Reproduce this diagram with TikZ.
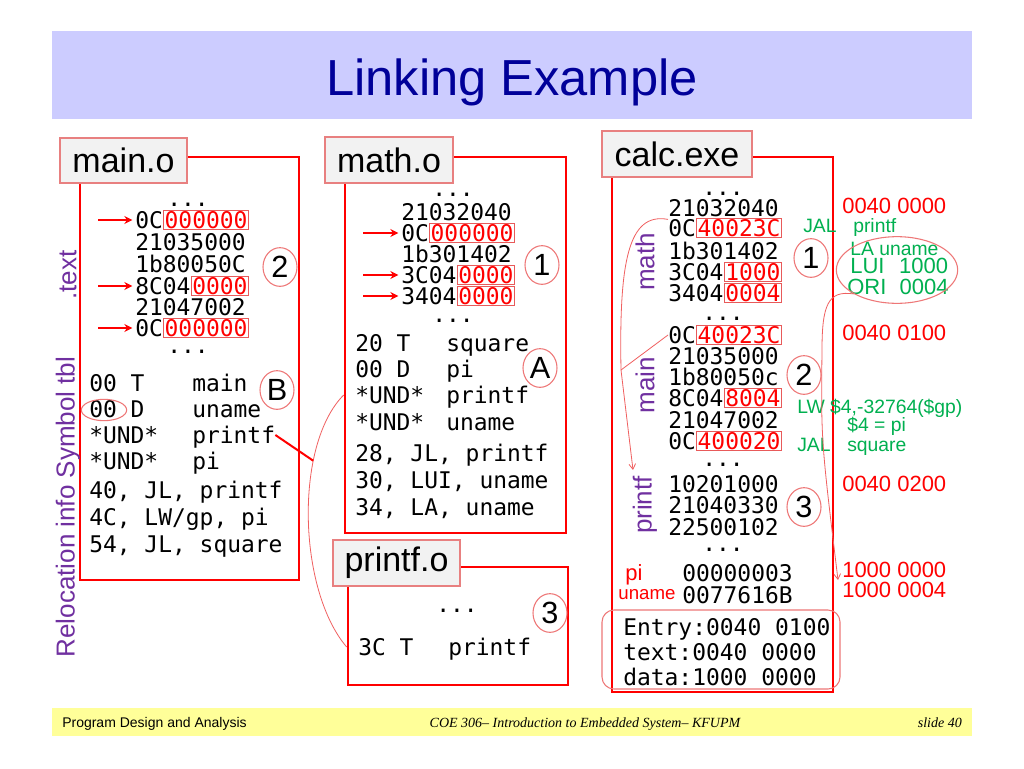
\documentclass[tikz,border=0pt]{standalone}
\usepackage{fontspec}
\setmainfont{Liberation Sans}
\setmonofont{DejaVu Sans Mono}
\newfontfamily\footserif{Liberation Serif}
\usetikzlibrary{arrows.meta,calc,positioning,fit,shapes.geometric}
\definecolor{bandblue}{HTML}{CCCCFF}
\definecolor{titleblue}{HTML}{000099}
\definecolor{bandyellow}{HTML}{FFFF99}
\definecolor{boxred}{HTML}{FF0000}
\definecolor{tagpink}{HTML}{E88080}
\definecolor{taggray}{HTML}{F2F2F2}
\definecolor{ringpink}{HTML}{EE7777}
\definecolor{hlred}{HTML}{E85A5A}
\definecolor{sidepurple}{HTML}{7030A0}
\definecolor{asmgreen}{HTML}{00B050}
\definecolor{linkred}{HTML}{F06060}
\tikzset{objbox/.style={draw=boxred, line width=2pt, inner sep=0pt},
  tagbox/.style={draw=tagpink, line width=1pt, fill=taggray, inner sep=0pt,
    font=\fontsize{25.5}{26}\selectfont},
  mono/.style={anchor=west, inner sep=0pt, font=\ttfamily\fontsize{17.2}{18}\selectfont,
    text height=12.5pt, text depth=0pt},
  hl/.style={mono, draw=hlred, line width=0.7pt, text=red, inner xsep=0.8pt, inner ysep=1.2pt},
  dots/.style={anchor=base, inner sep=0pt, font=\ttfamily\fontsize{17.2}{18}\selectfont,
    text height=3pt, text depth=0pt},
  numring/.style={ellipse, draw=ringpink, line width=0.8pt, inner sep=0pt,
    minimum width=25.5pt, minimum height=29pt, font=\fontsize{23}{24}\selectfont},
  side/.style={rotate=90, text=sidepurple, inner sep=0pt, font=\fontsize{19.5}{20}\selectfont},
  addr/.style={anchor=west, inner sep=0pt, text=red, font=\fontsize{16.5}{17}\selectfont,
    text height=11.8pt, text depth=0pt},
  asm/.style={anchor=west, inner sep=0pt, text=asmgreen, font=\fontsize{14.5}{15}\selectfont,
    text height=10.4pt, text depth=0pt},
  reloc/.style={red, line width=1.4pt, shorten >=2pt, -{Stealth[length=6pt, width=6pt]}},
  link/.style={linkred, line width=0.6pt},
  tip/.style={-{Straight Barb[length=4pt, width=5pt]}}}

\begin{document}
\begin{tikzpicture}[x=0.75pt, y=-0.75pt]
  \useasboundingbox (0,0) rectangle (1024,768);
  \fill[white] (0,0) rectangle (1024,768);
  % title and footer bands
  \node[fill=bandblue, inner sep=0pt, fit={(52,31) (972,119)}] (topband) {};
  \node[anchor=base, inner sep=0pt, text=titleblue, font=\fontsize{38}{40}\selectfont] (title) at (512,95) {Linking Example};
  \node[fill=bandyellow, inner sep=0pt, fit={(52,708) (972,736)}] (footband) {};
  \node[anchor=base west, inner sep=0pt, font=\fontsize{10.5}{12}\selectfont] (fleft) at (62,727) {Program Design and Analysis};
  \node[anchor=base, inner sep=0pt, font=\footserif\itshape\fontsize{10.5}{12}\selectfont] (fmid) at (585,727) {COE 306– Introduction to Embedded System– KFUPM};
  \node[anchor=base east, inner sep=0pt, font=\footserif\itshape\fontsize{10.5}{12}\selectfont] (fright) at (962,727) {slide 40};

  % the four object files
  \node[objbox, fit={(80,157) (299,580)}] (mainbox) {};
  \node[objbox, fit={(345,157) (566,533)}] (mathbox) {};
  \node[objbox, fit={(348,567) (568,685)}] (printfbox) {};
  \node[objbox, fit={(612,157) (833,692)}] (calcbox) {};
  \node[tagbox, minimum width=95.25pt, minimum height=33.75pt] (maintag) at (123.5,160.5) {main.o};
  \node[tagbox, minimum width=96pt, minimum height=34.5pt] (mathtag) at (389,160) {math.o};
  \node[tagbox, minimum width=95.25pt, minimum height=34.5pt] (printftag) at (396.5,563) {printf.o};
  \node[tagbox, minimum width=112.5pt, minimum height=34.5pt] (calctag) at (677,154) {calc.exe};

  % main.o
  \node[side] (textlbl) at (68,275) {.text};
  \node[side] (rellbl) at (68,507) {Relocation info Symbol tbl};
  \node[dots] (mdot1) at (188,206) {...};
  \node[dots] (mdot2) at (188,353) {...};
  \foreach \y/\s [count=\i] in {242/21035000, 264/1b80050C, 307/21047002}
    \node[mono] (mt\i) at (135,\y) {\s};
  \node[mono] (ma1) at (135,220) {0C};
  \node[hl, right=0pt of ma1] (ma1x) {000000};
  \node[mono] (ma2) at (135,286) {8C04};
  \node[hl, right=0pt of ma2] (ma2x) {0000};
  \node[mono] (ma3) at (135,328) {0C};
  \node[hl, right=0pt of ma3] (ma3x) {000000};
  \foreach \n in {ma1,ma2,ma3}
    \draw[reloc] ($(\n.west)+(-37,0)$) -- (\n.west);
  \foreach \y/\a/\b [count=\i] in {383/00 T/main, 409/00 D/uname, 435/*UND*/printf, 461/*UND*/pi}{
    \node[mono] (ms\i) at (89,\y) {\a};
    \node[mono] (msn\i) at (192,\y) {\b};}
  \node[mono] (mr1) at (89,490) {40, JL, printf};
  \node[mono] (mr2) at (89,517) {4C, LW/gp, pi};
  \node[mono] (mr3) at (89,544) {54, JL, square};
  \node[numring] (ring2) at (280,267) {2};
  \node[numring] (ringB) at (277,390) {B};
  \node[ellipse, draw=ringpink, line width=0.8pt, minimum width=34pt, minimum height=16pt] (zring) at (104,410) {};

  % math.o
  \node[dots] (tdot1) at (453,196) {...};
  \node[dots] (tdot2) at (453,322) {...};
  \node[mono] (tt1) at (401,212) {21032040};
  \node[mono] (tt2) at (401,254) {1b301402};
  \node[mono] (ta1) at (401,233) {0C};
  \node[hl, right=0pt of ta1] (ta1x) {000000};
  \node[mono] (ta2) at (401,275) {3C04};
  \node[hl, right=0pt of ta2] (ta2x) {0000};
  \node[mono] (ta3) at (401,296) {3404};
  \node[hl, right=0pt of ta3] (ta3x) {0000};
  \foreach \n in {ta1,ta2,ta3}
    \draw[reloc] ($(\n.west)+(-38,0)$) -- (\n.west);
  \foreach \y/\a/\b [count=\i] in {343/20 T/square, 369/00 D/pi, 395/*UND*/printf, 422/*UND*/uname}{
    \node[mono] (ts\i) at (355,\y) {\a};
    \node[mono] (tsn\i) at (446,\y) {\b};}
  \node[mono] (tr1) at (355,453) {28, JL, printf};
  \node[mono] (tr2) at (355,480) {30, LUI, uname};
  \node[mono] (tr3) at (355,507) {34, LA, uname};
  \node[numring] (ring1) at (542,265) {1};
  \node[numring] (ringA) at (540,368) {A};

  % printf.o
  \node[dots] (pdot) at (457,612) {...};
  \node[mono] (pdef) at (358,647) {3C T};
  \node[mono] (pdefn) at (448,647) {printf};
  \node[numring] (ring3) at (550,613) {3};

  % printf: undefined in math.o, defined in printf.o
  \draw[link] (mathbox.west |- ts3) .. controls (294,445) and (298,590) .. (printfbox.west |- pdef)
    coordinate[pos=0.3] (pfjoin);
  \draw[red, line width=1.5pt] (msn3.east) -- (pfjoin);

  % calc.exe
  \node[side] (cmathlbl) at (645,262) {math};
  \node[side] (cmainlbl) at (645,385) {main};
  \node[side] (cpflbl) at (645,505) {printf};
  \foreach \y [count=\i] in {195, 320, 466, 551}
    \node[dots] (cdot\i) at (723,\y) {...};
  \foreach \y/\s [count=\i] in {208/21032040, 251/1b301402, 356/21035000, 377/1b80050c,
      420/21047002, 484/10201000, 505/21040330, 527/22500102}
    \node[mono] (ct\i) at (668,\y) {\s};
  \node[mono] (cm1) at (668,228) {0C};
  \node[hl, right=0pt of cm1] (cm1x) {40023C};
  \node[mono] (cm2) at (668,272) {3C04};
  \node[hl, right=0pt of cm2] (cm2x) {1000};
  \node[mono] (cm3) at (668,293) {3404};
  \node[hl, right=0pt of cm3] (cm3x) {0004};
  \node[mono] (cm4) at (668,335) {0C};
  \node[hl, right=0pt of cm4] (cm4x) {40023C};
  \node[mono] (cm5) at (668,398) {8C04};
  \node[hl, right=0pt of cm5] (cm5x) {8004};
  \node[mono] (cm6) at (668,441) {0C};
  \node[hl, right=0pt of cm6] (cm6x) {400020};
  \node[mono] (cd1) at (682,573) {00000003};
  \node[mono] (cd2) at (682,595) {0077616B};
  \node[inner sep=0pt, text=red, font=\fontsize{16.5}{17}\selectfont] (pilbl) at (634,575) {pi};
  \node[inner sep=0pt, text=red, font=\fontsize{14}{15}\selectfont] (unamelbl) at (647,595) {uname};
  \node[draw=ringpink, line width=0.8pt, rounded corners=9pt, inner sep=0pt, fit={(602,610) (840,689)}] (hdr) {};
  \node[mono] (ch1) at (623,627) {Entry:0040 0100};
  \node[mono] (ch2) at (623,652) {text:0040 0000};
  \node[mono] (ch3) at (623,677) {data:1000 0000};
  \node[numring] (cring1) at (811,258) {1};
  \node[numring] (cring2) at (804,375) {2};
  \node[numring] (cring3) at (804,507) {3};

  % addresses and resolved instructions
  \node[addr] (a1) at (842,206) {0040 0000};
  \node[addr] (a2) at (842,333) {0040 0100};
  \node[addr] (a3) at (842,484) {0040 0200};
  \node[addr] (d1) at (842,570) {1000 0000};
  \node[addr] (d2) at (842,590) {1000 0004};
  \node[asm] (g1) at (803,226) {JAL};
  \node[asm] (g1n) at (853,226) {printf};
  \node[asm] (g2) at (850,249) {LA uname};
  \node[asm, font=\fontsize{16.5}{17}\selectfont, text height=11.8pt] (g3) at (850,266) {LUI\hspace{11pt}1000};
  \node[asm, font=\fontsize{16.5}{17}\selectfont, text height=11.8pt] (g4) at (847,287) {ORI\hspace{10pt}0004};
  \node[ellipse, draw=ringpink, line width=0.8pt, minimum width=91pt, minimum height=50pt] (laring) at (897,270) {};
  \node[asm] (g5) at (797,407) {LW \$4,-32764(\$gp)};
  \node[asm] (g6) at (847,425) {\$4 = pi};
  \node[asm] (g7) at (797,445) {JAL};
  \node[asm] (g7n) at (847,445) {square};

  % jumps to printf and the uname address
  \coordinate (cjoin) at (621,370);
  \coordinate (pfend) at (633,470);
  \draw[link] (cm1.north west) .. controls (628,212) and (619,262) .. (cjoin);
  \draw[link, tip] (cjoin) -- (pfend);
  \draw[link] (cm4.west) -- (cjoin);
  \draw[link, tip] (laring.south west) .. controls (828,290) and (822,305) .. (822,350)
    .. controls (821,440) .. ($(d1.west)!0.5!(d2.west)+(-4,0)$);
\end{tikzpicture}
\end{document}
